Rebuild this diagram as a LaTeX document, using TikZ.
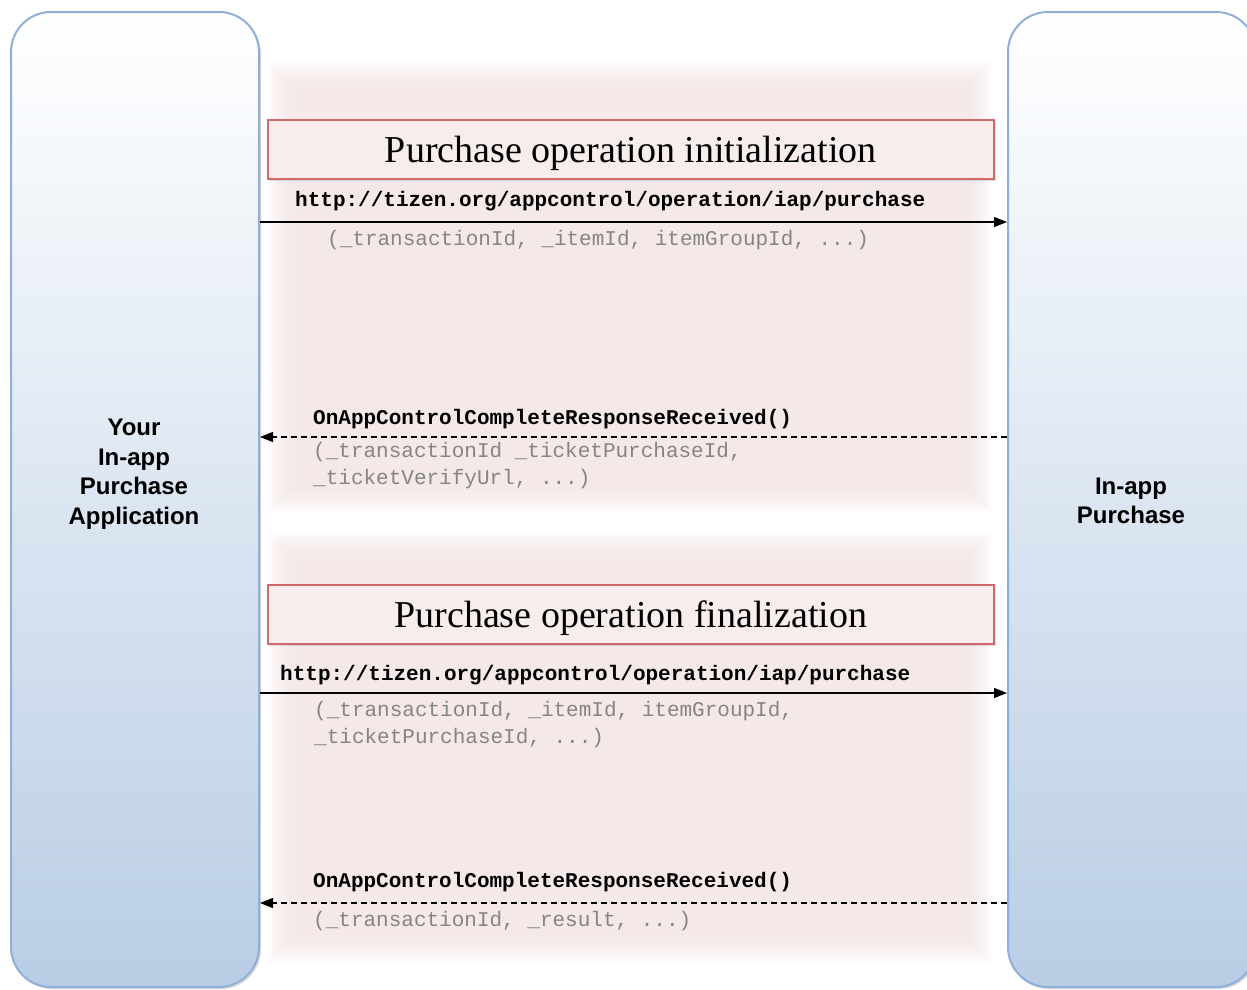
\documentclass[tikz,border=0pt]{standalone}
\usepackage{fontspec}
\setmainfont{Liberation Serif}
\setsansfont{Liberation Sans}
\setmonofont{Liberation Mono}
\usetikzlibrary{arrows.meta,shadows}
\definecolor{boxborder}{HTML}{8EB0D8}
\definecolor{boxfill}{HTML}{B9CDE5}
\definecolor{panelpink}{HTML}{F5E6E6}
\definecolor{titlered}{HTML}{D06A6A}
\definecolor{titlefill}{HTML}{F7EDED}
\definecolor{paramgray}{HTML}{858585}
\tikzset{
  actor/.style={draw=boxborder, line width=2pt, rounded corners=40pt,
    top color=white, bottom color=boxfill, minimum width=248pt, minimum height=975pt,
    inner sep=0pt, anchor=north west},
  actorlabel/.style={font=\sffamily\bfseries\fontsize{24}{29.5}\selectfont, align=center},
  titlebox/.style={draw=titlered, line width=1.6pt, fill=titlefill,
    minimum width=726pt, minimum height=59pt, anchor=north west, inner sep=0pt,
    text height=29pt, text depth=3pt,
    font=\rmfamily\fontsize{38}{44}\selectfont},
  msglabel/.style={font=\ttfamily\bfseries\fontsize{21}{27}\selectfont, anchor=west, inner sep=0pt},
  paramlabel/.style={font=\ttfamily\fontsize{21}{27}\selectfont, text=paramgray, anchor=north west, inner sep=0pt, align=left},
  callarrow/.style={line width=1.3pt, -{Triangle[length=13pt,width=10pt]}},
  replyarrow/.style={line width=1.3pt, dash pattern=on 6pt off 4pt, -{Triangle[length=13pt,width=10pt]}},
}
\begin{document}
\begin{tikzpicture}[x=1pt,y=-1pt]
\useasboundingbox (0,0) rectangle (1247,989);
\clip (0,0) rectangle (1247,989);
\fill[white] (0,0) rectangle (1247,989);
% panels with soft edges
\foreach \i in {0,...,9} {
  \fill[panelpink, opacity=0.15] (268+3*\i, 62+3*\i) rectangle (992-3*\i, 512-3*\i);
  \fill[panelpink, opacity=0.15] (268+3*\i, 532+3*\i) rectangle (992-3*\i, 962-3*\i);
}
% actors
\fill[black!30, opacity=0.5, rounded corners=40pt] (12,14) rectangle (261,989);
\fill[black!30, opacity=0.5, rounded corners=40pt] (1009,14) rectangle (1258,989);
\node[actor] (app) at (10,11) {};
\node[actor] (iap) at (1007,11) {};
\node[actorlabel] (applabel) at (134,474) {Your\\In-app\\Purchase\\Application};
\node[actorlabel] (iaplabel) at (1131,501) {In-app\\Purchase};
% titles
\node[titlebox, drop shadow={shadow xshift=2pt, shadow yshift=-2pt, opacity=0.25}] (t1) at (267,119) {Purchase operation initialization};
\node[titlebox, drop shadow={shadow xshift=2pt, shadow yshift=-2pt, opacity=0.25}] (t2) at (267,584) {Purchase operation finalization};
% arrow levels
\coordinate (y1) at (0,222);
\coordinate (y2) at (0,437);
\coordinate (y3) at (0,693);
\coordinate (y4) at (0,903);
\draw[callarrow] (app.east |- y1) -- (iap.west |- y1);
\draw[replyarrow] (iap.west |- y2) -- (app.east |- y2);
\draw[callarrow] (app.east |- y3) -- (iap.west |- y3);
\draw[replyarrow] (iap.west |- y4) -- (app.east |- y4);
% labels
\node[msglabel] (m1) at (295,201) {http://tizen.org/appcontrol/operation/iap/purchase};
\node[paramlabel] (p1) at (327,230) {(\_transactionId, \_itemId, itemGroupId, ...)};
\node[msglabel] (m2) at (313,419) {OnAppControlCompleteResponseReceived()};
\node[paramlabel] (p2) at (313,442) {(\_transactionId \_ticketPurchaseId,\\\_ticketVerifyUrl, ...)};
\node[msglabel] (m3) at (280,675) {http://tizen.org/appcontrol/operation/iap/purchase};
\node[paramlabel] (p3) at (314,701) {(\_transactionId, \_itemId, itemGroupId,\\\_ticketPurchaseId, ...)};
\node[msglabel] (m4) at (313,882) {OnAppControlCompleteResponseReceived()};
\node[paramlabel] (p4) at (313,911) {(\_transactionId, \_result, ...)};
\end{tikzpicture}
\end{document}
